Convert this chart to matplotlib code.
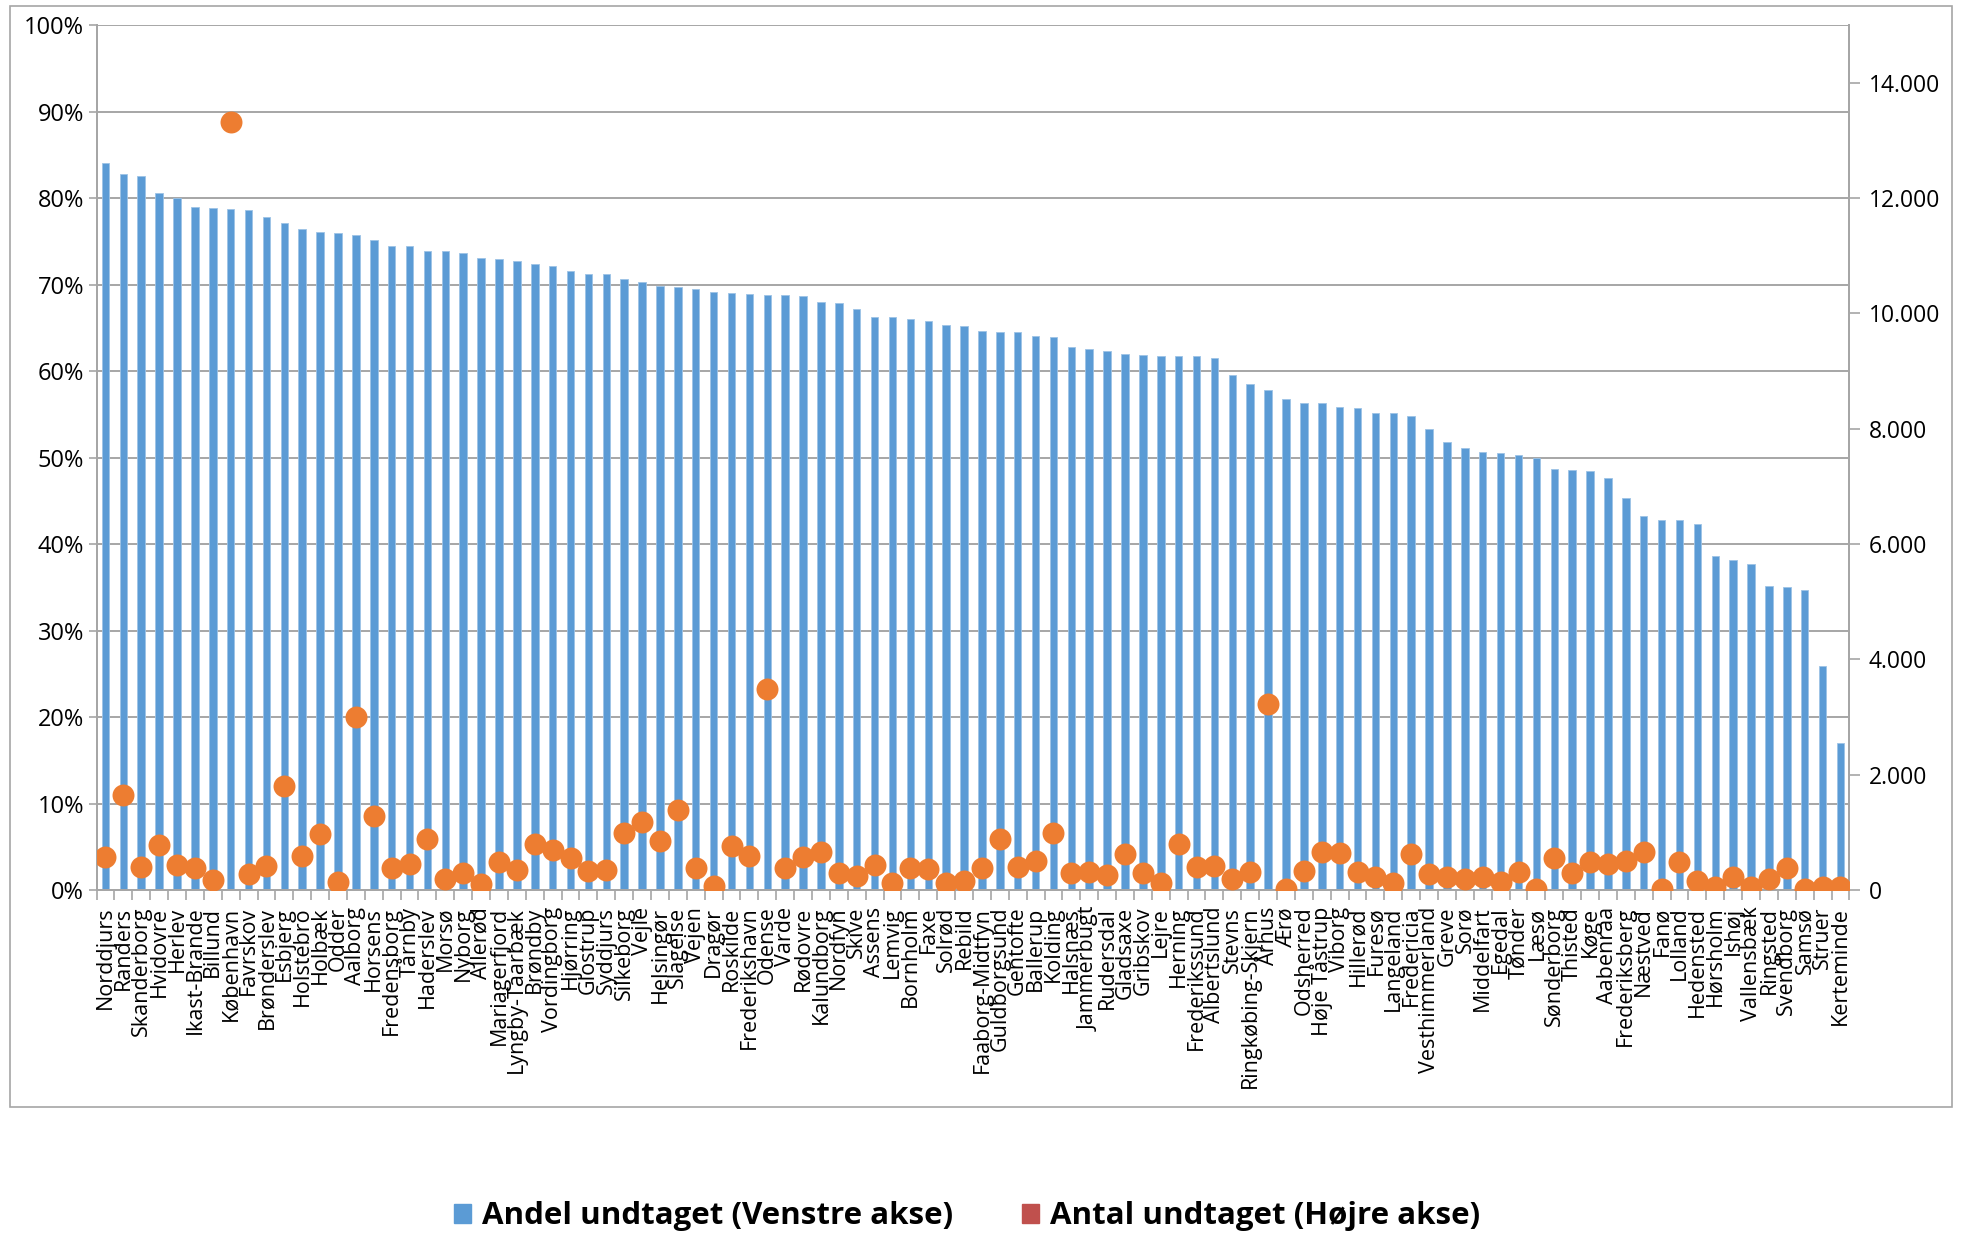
import matplotlib
matplotlib.use("Agg")
import matplotlib.pyplot as plt
import matplotlib.patches as mpatches
from matplotlib.ticker import FuncFormatter, FixedLocator, NullFormatter

plt.rcParams["font.family"] = ["Open Sans", "DejaVu Sans"]

# ── Data ─────────────────────────────────────────────────────────
kommuner = [
    "Norddjurs", "Randers", "Skanderborg", "Hvidovre", "Herlev", "Ikast-Brande",
    "Billund", "København", "Favrskov", "Brønderslev", "Esbjerg", "Holstebro",
    "Holbæk", "Odder", "Aalborg", "Horsens", "Fredensborg", "Tårnby", "Haderslev",
    "Morsø", "Nyborg", "Allerød", "Mariagerfjord", "Lyngby-Taarbæk", "Brøndby",
    "Vordingborg", "Hjørring", "Glostrup", "Syddjurs", "Silkeborg", "Vejle",
    "Helsingør", "Slagelse", "Vejen", "Dragør", "Roskilde", "Frederikshavn",
    "Odense", "Varde", "Rødovre", "Kalundborg", "Nordfyn", "Skive", "Assens",
    "Lemvig", "Bornholm", "Faxe", "Solrød", "Rebild", "Faaborg-Midtfyn",
    "Guldborgsund", "Gentofte", "Ballerup", "Kolding", "Halsnæs", "Jammerbugt",
    "Rudersdal", "Gladsaxe", "Gribskov", "Lejre", "Herning", "Frederikssund",
    "Albertslund", "Stevns", "Ringkøbing-Skjern", "Århus", "Ærø", "Odsherred",
    "Høje Tåstrup", "Viborg", "Hillerød", "Furesø", "Langeland", "Fredericia",
    "Vesthimmerland", "Greve", "Sorø", "Middelfart", "Egedal", "Tønder", "Læsø",
    "Sønderborg", "Thisted", "Køge", "Aabenraa", "Frederiksberg", "Næstved",
    "Fanø", "Lolland", "Hedensted", "Hørsholm", "Ishøj", "Vallensbæk",
    "Ringsted", "Svendborg", "Samsø", "Struer", "Kerteminde",
]

# Andel undtaget (venstre akse), procent
andel = [
    84.0, 82.8, 82.5, 80.6, 80.0, 79.0, 78.8, 78.7, 78.6, 77.8,
    77.1, 76.4, 76.1, 76.0, 75.7, 75.2, 74.5, 74.5, 73.9, 73.9,
    73.7, 73.1, 73.0, 72.7, 72.4, 72.2, 71.6, 71.2, 71.2, 70.7,
    70.3, 69.8, 69.7, 69.5, 69.1, 69.0, 68.9, 68.8, 68.8, 68.7,
    68.0, 67.9, 67.2, 66.2, 66.2, 66.0, 65.8, 65.3, 65.2, 64.6,
    64.5, 64.5, 64.1, 63.9, 62.8, 62.5, 62.3, 62.0, 61.9, 61.8,
    61.8, 61.7, 61.5, 59.6, 58.5, 57.8, 56.8, 56.3, 56.3, 55.9,
    55.7, 55.2, 55.1, 54.8, 53.3, 51.8, 51.1, 50.7, 50.5, 50.3,
    50.0, 48.7, 48.6, 48.5, 47.6, 45.3, 43.3, 42.8, 42.8, 42.3,
    38.6, 38.2, 37.7, 35.2, 35.0, 34.7, 25.9, 17.0,
]

# Antal undtaget (højre akse)
antal = [
    580, 1640, 395, 775, 440, 380, 175, 13320, 280, 425,
    1810, 590, 975, 145, 3000, 1280, 380, 460, 890, 185,
    290, 105, 480, 355, 800, 700, 555, 325, 345, 990,
    1185, 845, 1395, 385, 65, 770, 590, 3480, 380, 565,
    655, 290, 250, 440, 120, 375, 360, 125, 160, 375,
    885, 395, 510, 995, 300, 310, 260, 620, 295, 120,
    800, 405, 410, 190, 305, 3220, 20, 335, 665, 650,
    320, 230, 120, 625, 280, 220, 200, 230, 135, 305,
    10, 555, 290, 480, 450, 510, 655, 15, 495, 160,
    60, 220, 45, 190, 380, 15, 60, 60,
]

pct_ticks = list(range(0, 101, 10))
antal_ticks = list(range(0, 14001, 2000))

BLUE = "#5B9BD5"
ORANGE = "#ED7D31"
RED = "#C0504D"
GRID = "#A6A6A6"

fig = plt.figure(figsize=(19.66, 12.36), dpi=100)
ax = fig.add_axes([0.0491, 0.2799, 0.8916, 0.6998])

x = list(range(len(kommuner)))
ax.bar(x, andel, width=0.42, color=BLUE, edgecolor="#9DC3E6", linewidth=0.6, zorder=2)
ax.set_xlim(-0.5, len(kommuner) - 0.5)
ax.set_ylim(0, 100)
ax.yaxis.set_major_locator(FixedLocator(pct_ticks))
ax.yaxis.set_major_formatter(FuncFormatter(lambda v, p: f"{int(v)}%"))
ax.grid(axis="y", color=GRID, linewidth=1.4, zorder=0)
ax.set_axisbelow(True)

ax.set_xticks(x)
ax.set_xticklabels(kommuner, rotation=90, fontsize=15.5, va="top", ha="center")
ax.tick_params(axis="x", which="major", length=0, pad=12)
ax.xaxis.set_minor_locator(FixedLocator([i + 0.5 for i in range(-1, len(kommuner))]))
ax.xaxis.set_minor_formatter(NullFormatter())
ax.tick_params(axis="x", which="minor", length=7, color=GRID, width=1.2)
ax.tick_params(axis="y", labelsize=17, length=6, color=GRID, width=1.2, pad=3)

ax.spines["top"].set_visible(False)
for side in ["left", "bottom", "right"]:
    ax.spines[side].set_color(GRID)
    ax.spines[side].set_linewidth(1.4)

ax2 = ax.twinx()
ax2.scatter(x, antal, s=250, color=ORANGE, zorder=3, linewidths=0)
ax2.set_ylim(0, 15000)
ax2.yaxis.set_major_locator(FixedLocator(antal_ticks))
ax2.yaxis.set_major_formatter(
    FuncFormatter(lambda v, p: f"{int(v):,}".replace(",", "."))
)
ax2.tick_params(axis="y", labelsize=16.5, length=8, color=GRID, width=1.2, pad=6)
ax2.spines["top"].set_visible(False)
for side in ["left", "bottom", "right"]:
    ax2.spines[side].set_color(GRID)
    ax2.spines[side].set_linewidth(1.4)

# chart area border
fig.patches.append(mpatches.Rectangle((0.0051, 0.1045), 0.988, 0.8904,
                                      transform=fig.transFigure, fill=False,
                                      edgecolor=GRID, linewidth=1.2))

handles = [
    mpatches.Patch(color=BLUE, label="Andel undtaget (Venstre akse)"),
    mpatches.Patch(color=RED, label="Antal undtaget (Højre akse)"),
]
fig.legend(handles=handles, loc="center", bbox_to_anchor=(0.492, 0.016), ncol=2,
           frameon=False, prop={"weight": "bold", "size": 22.5},
           handlelength=0.55, handleheight=0.55, handletextpad=0.35, columnspacing=2.2)

fig.savefig("out.png", dpi=100)
